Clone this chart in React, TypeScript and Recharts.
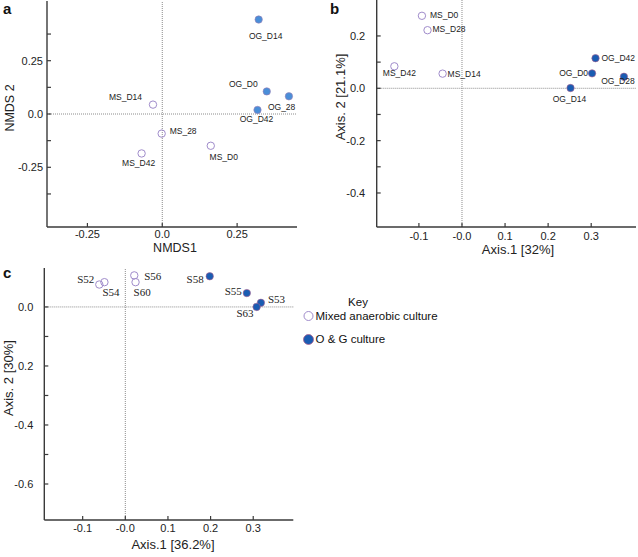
import React from "react";
import { ScatterChart, Scatter, XAxis, YAxis, ReferenceLine } from "recharts";

// panel a - NMDS
const nmdsOgNames = ["OG_D14", "OG_D0", "OG_28", "OG_D42"];
const nmdsOgX = [0.322, 0.349, 0.423, 0.318];
const nmdsOgY = [0.443, 0.106, 0.083, 0.019];
const nmdsMsNames = ["MS_D14", "MS_28", "MS_D0", "MS_D42"];
const nmdsMsX = [-0.031, -0.002, 0.162, -0.069];
const nmdsMsY = [0.044, -0.092, -0.149, -0.185];

// panel b - PCoA, time series
const pcoaOgNames = ["OG_D42", "OG_D0", "OG_D28", "OG_D14"];
const pcoaOgX = [0.31, 0.302, 0.376, 0.252];
const pcoaOgY = [0.115, 0.057, 0.044, 0.001];
const pcoaMsNames = ["MS_D0", "MS_D28", "MS_D42", "MS_D14"];
const pcoaMsX = [-0.093, -0.08, -0.157, -0.045];
const pcoaMsY = [0.277, 0.222, 0.084, 0.056];

// panel c - PCoA, samples
const sampOgNames = ["S58", "S55", "S53", "S63"];
const sampOgX = [0.198, 0.285, 0.318, 0.308];
const sampOgY = [0.104, 0.047, 0.014, 0.0];
const sampMsNames = ["S52", "S54", "S56", "S60"];
const sampMsX = [-0.061, -0.049, 0.021, 0.024];
const sampMsY = [0.076, 0.084, 0.107, 0.084];

// axis ticks
const aXTicks = [-0.25, 0, 0.25];
const aXLabels = ["-0.25", "0.0", "0.25"];
const aYTicks = [0.375, 0.25, 0.125, 0, -0.125, -0.25, -0.375];
const aYLabels = ["", "0.25", "", "0.0", "", "-0.25", ""];
const bXTicks = [-0.1, 0, 0.1, 0.2, 0.3];
const bXLabels = ["-0.1", "-0.0", "0.1", "0.2", "0.3"];
const bYTicks = [0.2, 0.1, 0, -0.1, -0.2, -0.3, -0.4];
const bYLabels = ["0.2", "", "0.0", "", "-0.2", "", "-0.4"];
const cXTicks = [-0.1, 0, 0.1, 0.2, 0.3];
const cXLabels = ["-0.1", "-0.0", "0.1", "0.2", "0.3"];
const cYTicks = [0, -0.1, -0.2, -0.3, -0.4, -0.5, -0.6];
const cYLabels = ["0.0", "", "0.2", "", "-0.4", "", "-0.6"];

const legendLabels = ["Mixed anaerobic culture", "O & G culture"];

type Pt = { name: string; x: number; y: number };
const toPoints = (names: string[], xs: number[], ys: number[]): Pt[] =>
  names.map((name, i) => ({ name, x: xs[i], y: ys[i] }));

const SANS = '"Liberation Sans", Arial, sans-serif';
const SERIF = '"Liberation Serif", "Times New Roman", serif';
const FRAME = "#3a3a3a";
const OPEN_STROKE = "#a08ccb";
const BLUE_LIGHT = "#4a8ed8";
const BLUE_DARK = "#1a5cb2";

// where each point's name sits relative to the marker: dx, dy (baseline), anchor
type Place = [number, number, "start" | "middle" | "end"];
const placeA: Record<string, Place> = {
  OG_D14: [7, 19, "middle"],
  OG_D0: [-9, -4, "end"],
  OG_28: [-21, 14, "start"],
  OG_D42: [-1, 12, "middle"],
  MS_D14: [-11, -5, "end"],
  MS_28: [8, 0, "start"],
  MS_D0: [13, 14, "middle"],
  MS_D42: [-3, 13, "middle"],
};
const placeB: Record<string, Place> = {
  MS_D0: [8, 2, "start"],
  MS_D28: [5, 2, "start"],
  MS_D42: [5, 10, "middle"],
  MS_D14: [5, 3, "start"],
  OG_D42: [6, 3, "start"],
  OG_D0: [-4, 3, "end"],
  OG_D28: [-6, 7, "middle"],
  OG_D14: [-1, 14, "middle"],
};
const placeC: Record<string, Place> = {
  S52: [-5, -2, "end"],
  S54: [-2, 14, "start"],
  S56: [10, 5, "start"],
  S60: [-2, 14, "start"],
  S58: [-6, 7, "end"],
  S55: [-5, 2, "end"],
  S53: [7, 0, "start"],
  S63: [-3, 10, "end"],
};

function makeShape(fill: string, stroke: string, place: Record<string, Place>, font: string, fontSize: number) {
  return (props: any) => {
    const { cx, cy, payload } = props;
    const p = place[payload.name] || [6, 3, "start"];
    return (
      <g>
        <circle cx={cx} cy={cy} r={3.7} fill={fill} stroke={stroke} strokeWidth={fill === "none" ? 1 : 0.6} />
        <text x={cx + p[0]} y={cy + p[1]} textAnchor={p[2]} fontFamily={font} fontSize={fontSize} fill="#1c1c1c">
          {payload.name}
        </text>
      </g>
    );
  };
}

const labelFor = (ticks: number[], labels: string[], v: number) => {
  const i = ticks.findIndex((t) => Math.abs(t - v) < 1e-9);
  return i >= 0 ? labels[i] : "";
};

interface Series {
  data: Pt[];
  shape: (p: any) => React.ReactElement;
}

interface PanelProps {
  left: number;
  top: number;
  width: number;
  height: number;
  marginTop: number;
  marginRight: number;
  yAxisWidth: number;
  xAxisHeight: number;
  xDomain: [number, number];
  yDomain: [number, number];
  xTicks: number[];
  xLabels: string[];
  yTicks: number[];
  yLabels: string[];
  xLabelDy: number;
  yLabelGap: number;
  xTitle: string;
  yTitle: string;
  titleSize: number;
  xTitleAt: [number, number];
  yTitleAt: [number, number];
  series: Series[];
}

const frameLine = { stroke: FRAME, strokeWidth: 1.4 };

function Panel(props: PanelProps) {
  const { xDomain, yDomain } = props;
  return (
    <div style={{ position: "absolute", left: props.left, top: props.top }}>
      <ScatterChart
        width={props.width}
        height={props.height}
        margin={{ top: props.marginTop, right: props.marginRight, bottom: 0, left: 0 }}
      >
        <XAxis
          type="number"
          dataKey="x"
          domain={xDomain}
          ticks={props.xTicks}
          interval={0}
          allowDataOverflow
          height={props.xAxisHeight}
          axisLine={frameLine}
          tickSize={0}
          tickMargin={0}
          tick={(t: any) => (
            <g>
              <line x1={t.x} x2={t.x} y1={t.y} y2={t.y - 4} stroke={FRAME} strokeWidth={1.2} />
              <text x={t.x} y={t.y + props.xLabelDy} textAnchor="middle" fontFamily={SANS} fontSize={11} fill="#222">
                {labelFor(props.xTicks, props.xLabels, t.payload.value)}
              </text>
            </g>
          )}
          label={{
            content: () => (
              <text
                x={props.xTitleAt[0]}
                y={props.xTitleAt[1]}
                textAnchor="middle"
                dominantBaseline="central"
                fontFamily={SANS}
                fontSize={props.titleSize}
                fill="#222"
              >
                {props.xTitle}
              </text>
            ),
          }}
        />
        <XAxis
          xAxisId="top"
          orientation="top"
          type="number"
          domain={xDomain}
          allowDataOverflow
          height={0}
          tick={false}
          tickLine={false}
          axisLine={frameLine}
        />
        <YAxis
          type="number"
          dataKey="y"
          domain={yDomain}
          ticks={props.yTicks}
          interval={0}
          allowDataOverflow
          width={props.yAxisWidth}
          axisLine={frameLine}
          tickSize={0}
          tickMargin={0}
          tick={(t: any) => (
            <g>
              <line x1={t.x} x2={t.x + 4} y1={t.y} y2={t.y} stroke={FRAME} strokeWidth={1.2} />
              <text x={t.x - props.yLabelGap} y={t.y + 4} textAnchor="end" fontFamily={SANS} fontSize={11} fill="#222">
                {labelFor(props.yTicks, props.yLabels, t.payload.value)}
              </text>
            </g>
          )}
          label={{
            content: () => (
              <text
                x={props.yTitleAt[0]}
                y={props.yTitleAt[1]}
                transform={`rotate(-90 ${props.yTitleAt[0]} ${props.yTitleAt[1]})`}
                textAnchor="middle"
                dominantBaseline="central"
                fontFamily={SANS}
                fontSize={props.titleSize}
                fill="#222"
              >
                {props.yTitle}
              </text>
            ),
          }}
        />
        <YAxis
          yAxisId="right"
          orientation="right"
          type="number"
          domain={yDomain}
          allowDataOverflow
          width={0}
          tick={false}
          tickLine={false}
          axisLine={frameLine}
        />
        <ReferenceLine x={0} stroke="#8c8c8c" strokeDasharray="1 1" />
        <ReferenceLine y={0} stroke="#8c8c8c" strokeDasharray="1 1" />
        {props.series.map((s, i) => (
          <Scatter key={i} data={s.data} shape={s.shape} isAnimationActive={false} />
        ))}
      </ScatterChart>
    </div>
  );
}

export default function App() {
  return (
    <div style={{ position: "absolute", left: 0, top: 0, width: 638, height: 557, background: "#fff", overflow: "hidden" }}>
      <Panel
        left={0}
        top={0}
        width={300}
        height={260}
        marginTop={1}
        marginRight={3}
        yAxisWidth={47}
        xAxisHeight={33}
        xDomain={[-0.385, 0.45]}
        yDomain={[-0.53, 0.53]}
        xTicks={aXTicks}
        xLabels={aXLabels}
        yTicks={aYTicks}
        yLabels={aYLabels}
        xLabelDy={11}
        yLabelGap={4}
        xTitle="NMDS1"
        yTitle="NMDS 2"
        titleSize={12.5}
        xTitleAt={[175, 248]}
        yTitleAt={[10, 108]}
        series={[
          { data: toPoints(nmdsMsNames, nmdsMsX, nmdsMsY), shape: makeShape("none", OPEN_STROKE, placeA, SANS, 8.5) },
          { data: toPoints(nmdsOgNames, nmdsOgX, nmdsOgY), shape: makeShape(BLUE_LIGHT, "#9a7fb4", placeA, SANS, 8.5) },
        ]}
      />
      <Panel
        left={330}
        top={-2}
        width={308}
        height={262}
        marginTop={0}
        marginRight={2}
        yAxisWidth={46.7}
        xAxisHeight={33}
        xDomain={[-0.198, 0.404]}
        yDomain={[-0.53, 0.345]}
        xTicks={bXTicks}
        xLabels={bXLabels}
        yTicks={bYTicks}
        yLabels={bYLabels}
        xLabelDy={13}
        yLabelGap={11.5}
        xTitle="Axis.1 [32%]"
        yTitle="Axis. 2 [21.1%]"
        titleSize={13}
        xTitleAt={[188, 251]}
        yTitleAt={[10, 99]}
        series={[
          { data: toPoints(pcoaMsNames, pcoaMsX, pcoaMsY), shape: makeShape("none", OPEN_STROKE, placeB, SANS, 8.5) },
          { data: toPoints(pcoaOgNames, pcoaOgX, pcoaOgY), shape: makeShape(BLUE_DARK, "#a8608e", placeB, SANS, 8.5) },
        ]}
      />
      <Panel
        left={0}
        top={268}
        width={296}
        height={289}
        marginTop={0}
        marginRight={2.7}
        yAxisWidth={44.3}
        xAxisHeight={37}
        xDomain={[-0.19, 0.394]}
        yDomain={[-0.722, 0.132]}
        xTicks={cXTicks}
        xLabels={cXLabels}
        yTicks={cYTicks}
        yLabels={cYLabels}
        xLabelDy={12}
        yLabelGap={11}
        xTitle="Axis.1 [36.2%]"
        yTitle="Axis. 2 [30%]"
        titleSize={13}
        xTitleAt={[173, 276]}
        yTitleAt={[8, 110]}
        series={[
          { data: toPoints(sampMsNames, sampMsX, sampMsY), shape: makeShape("none", OPEN_STROKE, placeC, SERIF, 11) },
          { data: toPoints(sampOgNames, sampOgX, sampOgY), shape: makeShape(BLUE_DARK, "#a8608e", placeC, SERIF, 11) },
        ]}
      />
      <svg width={638} height={557} style={{ position: "absolute", left: 0, top: 0, pointerEvents: "none" }}>
        <g fontFamily={SANS} fontWeight="bold" fontSize={15} fill="#111">
          <text x={3} y={14}>a</text>
          <text x={330} y={14}>b</text>
          <text x={3} y={278}>c</text>
        </g>
        <g fontFamily={SANS} fontSize={11.5} fill="#111">
          <text x={358} y={306} textAnchor="middle">Key</text>
          <circle cx={308.5} cy={316} r={4.5} fill="none" stroke={OPEN_STROKE} strokeWidth={1} />
          <text x={315.5} y={320}>{legendLabels[0]}</text>
          <circle cx={308.5} cy={339.5} r={5} fill={BLUE_DARK} stroke="#a8608e" strokeWidth={0.8} />
          <text x={315.5} y={343}>{legendLabels[1]}</text>
        </g>
      </svg>
    </div>
  );
}
